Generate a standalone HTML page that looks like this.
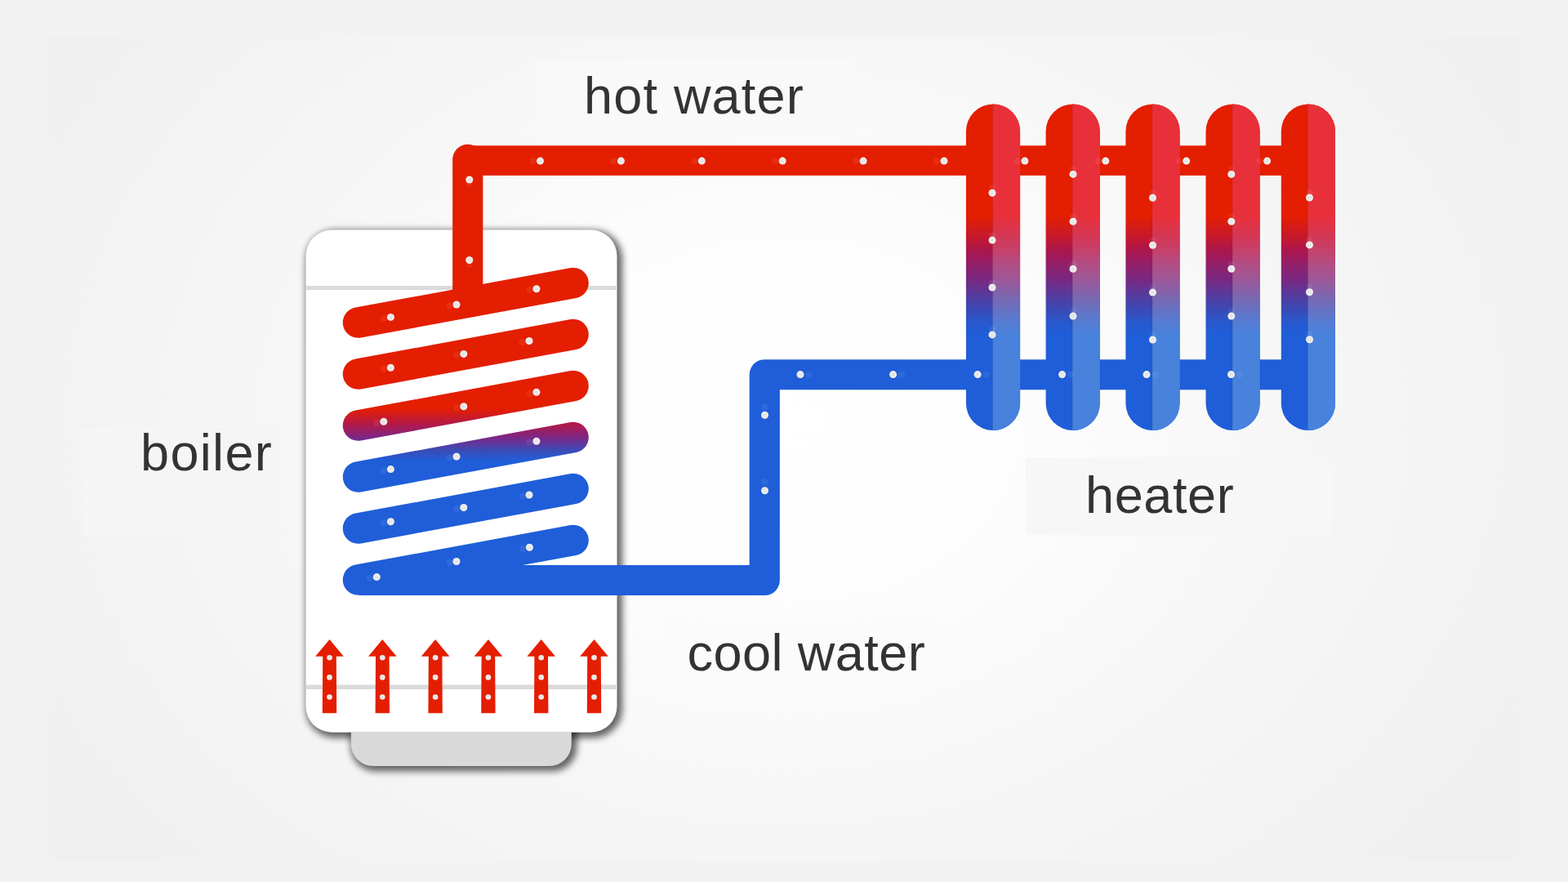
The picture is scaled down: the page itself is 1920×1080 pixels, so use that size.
<!DOCTYPE html>
<html lang="en">
<head>
<meta charset="utf-8">
<title>Boiler and heater water circulation</title>
<style>
  html, body { margin: 0; padding: 0; }
  body { width: 1920px; height: 1080px; overflow: hidden; background: #f2f2f2; position: relative;
         font-family: "Liberation Sans", sans-serif; }
  .stage { position: absolute; left: 60px; top: 45px; width: 1800px; height: 1010px;
           background: radial-gradient(ellipse 1040px 800px at 900px 470px, #ffffff 0%, #fdfdfd 28%, #f6f6f6 62%, #f0f0f0 100%); }
  .box { position: absolute; }
  svg.diagram { position: absolute; left: 0; top: 0; width: 1920px; height: 1080px; }
  .label { position: absolute; margin: 0; color: #333333; font-size: 63px; line-height: 1; white-space: nowrap;
           font-weight: normal; transform-origin: 0 0; }
</style>
</head>
<body>
<div class="stage"></div>
<div class="box" style="left:655px; top:74px; width:390px; height:91px; background:#f9f9f9;"></div>
<div class="box" style="left:100px; top:523px; width:245px; height:133px; background:#f5f5f5;"></div>
<div class="box" style="left:1256px; top:560px; width:374px; height:95px; background:#f7f7f7;"></div>
<div class="box" style="left:808px; top:756px; width:340px; height:82px; background:#fbfbfb;"></div>
<svg class="diagram" viewBox="0 0 1920 1080" width="1920" height="1080">
  <defs>
    <filter id="blur" filterUnits="userSpaceOnUse" x="330" y="240" width="480" height="760" color-interpolation-filters="sRGB">
      <feGaussianBlur stdDeviation="4.4"/>
    </filter>
    <clipPath id="baseclip"><rect x="380" y="896.8" width="400" height="120"/></clipPath>
    <linearGradient id="coilg" gradientUnits="userSpaceOnUse" x1="0" y1="500" x2="0" y2="564">
      <stop offset="0" stop-color="#e41e00"/>
      <stop offset="0.3" stop-color="#b41848"/>
      <stop offset="0.55" stop-color="#7e2684"/>
      <stop offset="0.8" stop-color="#3c4ab6"/>
      <stop offset="1" stop-color="#1f5ed8"/>
    </linearGradient>
    <linearGradient id="radg" gradientUnits="userSpaceOnUse" x1="0" y1="264" x2="0" y2="410">
      <stop offset="0" stop-color="#e41e00"/>
      <stop offset="0.19" stop-color="#c41830"/>
      <stop offset="0.30" stop-color="#aa1650"/>
      <stop offset="0.42" stop-color="#90206c"/>
      <stop offset="0.54" stop-color="#782882"/>
      <stop offset="0.66" stop-color="#583a9c"/>
      <stop offset="0.78" stop-color="#3c48b4"/>
      <stop offset="0.89" stop-color="#2858cc"/>
      <stop offset="1" stop-color="#1f5ed8"/>
    </linearGradient>
    <linearGradient id="radl" gradientUnits="userSpaceOnUse" x1="0" y1="264" x2="0" y2="410">
      <stop offset="0" stop-color="#e8303a"/>
      <stop offset="0.19" stop-color="#d23858"/>
      <stop offset="0.30" stop-color="#c4426c"/>
      <stop offset="0.42" stop-color="#b04e86"/>
      <stop offset="0.54" stop-color="#9c5898"/>
      <stop offset="0.66" stop-color="#8064ac"/>
      <stop offset="0.78" stop-color="#6870c0"/>
      <stop offset="0.89" stop-color="#567cd2"/>
      <stop offset="1" stop-color="#4882dc"/>
    </linearGradient>
    <radialGradient id="dotg" cx="0.5" cy="0.5" r="0.5">
      <stop offset="0" stop-color="#e2e2e2"/>
      <stop offset="0.6" stop-color="#ebebeb"/>
      <stop offset="1" stop-color="#f3eeee"/>
    </radialGradient>
  </defs>

<rect x="374.7" y="281.7" width="387.4" height="621.7" rx="35.2" ry="35.2" fill="#000" opacity="0.6" filter="url(#blur)"/>
<g clip-path="url(#baseclip)">
  <path d="M429.6 880 H706.4 V914.4 a30.2 30.2 0 0 1 -30.2 30.2 H459.8 a30.2 30.2 0 0 1 -30.2 -30.2 Z" fill="#000" opacity="0.6" filter="url(#blur)"/>
  <path d="M429.8 884 H699.8 V911 a27 27 0 0 1 -27 27 H456.8 a27 27 0 0 1 -27 -27 Z" fill="#d9d9d9"/>
</g>
<rect x="374.5" y="281.5" width="381" height="615.3" rx="32" ry="32" fill="#fff"/>
<rect x="374.5" y="350" width="381" height="5" fill="#dadada"/>
<rect x="374.5" y="838.5" width="381" height="5.5" fill="#dadada"/>

<g><polygon points="403.5,783.0 420.8,803.8 411.8,803.8 412.2,873.2 394.8,873.2 395.2,803.8 386.2,803.8" fill="#e41e00"/><circle cx="403.5" cy="805.3" r="3.3" fill="url(#dotg)"/><circle cx="403.5" cy="829.4" r="3.3" fill="url(#dotg)"/><circle cx="403.5" cy="853.5" r="3.3" fill="url(#dotg)"/><polygon points="468.3,783.0 485.6,803.8 476.6,803.8 477.0,873.2 459.6,873.2 460.0,803.8 451.0,803.8" fill="#e41e00"/><circle cx="468.3" cy="805.3" r="3.3" fill="url(#dotg)"/><circle cx="468.3" cy="829.4" r="3.3" fill="url(#dotg)"/><circle cx="468.3" cy="853.5" r="3.3" fill="url(#dotg)"/><polygon points="533.1,783.0 550.4,803.8 541.4,803.8 541.8,873.2 524.4,873.2 524.8,803.8 515.8,803.8" fill="#e41e00"/><circle cx="533.1" cy="805.3" r="3.3" fill="url(#dotg)"/><circle cx="533.1" cy="829.4" r="3.3" fill="url(#dotg)"/><circle cx="533.1" cy="853.5" r="3.3" fill="url(#dotg)"/><polygon points="597.9,783.0 615.2,803.8 606.2,803.8 606.6,873.2 589.2,873.2 589.6,803.8 580.6,803.8" fill="#e41e00"/><circle cx="597.9" cy="805.3" r="3.3" fill="url(#dotg)"/><circle cx="597.9" cy="829.4" r="3.3" fill="url(#dotg)"/><circle cx="597.9" cy="853.5" r="3.3" fill="url(#dotg)"/><polygon points="662.7,783.0 680.0,803.8 671.0,803.8 671.4,873.2 654.0,873.2 654.4,803.8 645.4,803.8" fill="#e41e00"/><circle cx="662.7" cy="805.3" r="3.3" fill="url(#dotg)"/><circle cx="662.7" cy="829.4" r="3.3" fill="url(#dotg)"/><circle cx="662.7" cy="853.5" r="3.3" fill="url(#dotg)"/><polygon points="727.5,783.0 744.8,803.8 735.8,803.8 736.2,873.2 718.8,873.2 719.2,803.8 710.2,803.8" fill="#e41e00"/><circle cx="727.5" cy="805.3" r="3.3" fill="url(#dotg)"/><circle cx="727.5" cy="829.4" r="3.3" fill="url(#dotg)"/><circle cx="727.5" cy="853.5" r="3.3" fill="url(#dotg)"/></g>
<g stroke="url(#coilg)" stroke-width="37.5" stroke-linecap="round" fill="none"><line x1="438.5" y1="395" x2="702" y2="346.5"/><line x1="438.5" y1="458" x2="702" y2="409.5"/><line x1="438.5" y1="521" x2="702" y2="472.5"/><line x1="438.5" y1="584" x2="702" y2="535.5"/><line x1="438.5" y1="647" x2="702" y2="598.5"/><line x1="438.5" y1="710" x2="702" y2="661.5"/></g>
<path d="M572.75 364 V195.4" fill="none" stroke="#e41e00" stroke-width="37.2" stroke-linecap="round"/><rect x="572" y="178.3" width="1030" height="36.6" fill="#e41e00"/>
<path d="M1600 458.75 H936.25 V710.5 H440" fill="none" stroke="#1f5ed8" stroke-width="37.2" stroke-linejoin="round"/>
<g><rect x="1182.9" y="127.5" width="66.2" height="399.5" rx="33.1" ry="33.1" fill="url(#radg)"/><path d="M1215.50 127.5 a33.1 33.1 0 0 1 33.6 33.1 V493.9 a33.1 33.1 0 0 1 -33.6 33.1 Z" fill="url(#radl)"/><rect x="1214.80" y="127.5" width="1.2" height="399.5" fill="#000" opacity="0.06"/><rect x="1280.6" y="127.5" width="66.2" height="399.5" rx="33.1" ry="33.1" fill="url(#radg)"/><path d="M1313.20 127.5 a33.1 33.1 0 0 1 33.6 33.1 V493.9 a33.1 33.1 0 0 1 -33.6 33.1 Z" fill="url(#radl)"/><rect x="1312.50" y="127.5" width="1.2" height="399.5" fill="#000" opacity="0.06"/><rect x="1378.4" y="127.5" width="66.2" height="399.5" rx="33.1" ry="33.1" fill="url(#radg)"/><path d="M1411.00 127.5 a33.1 33.1 0 0 1 33.6 33.1 V493.9 a33.1 33.1 0 0 1 -33.6 33.1 Z" fill="url(#radl)"/><rect x="1410.30" y="127.5" width="1.2" height="399.5" fill="#000" opacity="0.06"/><rect x="1476.5" y="127.5" width="66.2" height="399.5" rx="33.1" ry="33.1" fill="url(#radg)"/><path d="M1509.10 127.5 a33.1 33.1 0 0 1 33.6 33.1 V493.9 a33.1 33.1 0 0 1 -33.6 33.1 Z" fill="url(#radl)"/><rect x="1508.40" y="127.5" width="1.2" height="399.5" fill="#000" opacity="0.06"/><rect x="1568.8" y="127.5" width="66.2" height="399.5" rx="33.1" ry="33.1" fill="url(#radg)"/><path d="M1601.40 127.5 a33.1 33.1 0 0 1 33.6 33.1 V493.9 a33.1 33.1 0 0 1 -33.6 33.1 Z" fill="url(#radl)"/><rect x="1600.70" y="127.5" width="1.2" height="399.5" fill="#000" opacity="0.06"/></g>
<g><circle cx="652.5" cy="197.1" r="4.2" fill="#fff" opacity="0.07"/><circle cx="661.5" cy="197.1" r="4.5" fill="url(#dotg)"/><circle cx="751.4" cy="197.1" r="4.2" fill="#fff" opacity="0.07"/><circle cx="760.4" cy="197.1" r="4.5" fill="url(#dotg)"/><circle cx="850.3" cy="197.1" r="4.2" fill="#fff" opacity="0.07"/><circle cx="859.3" cy="197.1" r="4.5" fill="url(#dotg)"/><circle cx="949.2" cy="197.1" r="4.2" fill="#fff" opacity="0.07"/><circle cx="958.2" cy="197.1" r="4.5" fill="url(#dotg)"/><circle cx="1048.1" cy="197.1" r="4.2" fill="#fff" opacity="0.07"/><circle cx="1057.1" cy="197.1" r="4.5" fill="url(#dotg)"/><circle cx="1147.0" cy="197.1" r="4.2" fill="#fff" opacity="0.07"/><circle cx="1156.0" cy="197.1" r="4.5" fill="url(#dotg)"/><circle cx="1245.9" cy="197.1" r="4.2" fill="#fff" opacity="0.07"/><circle cx="1254.9" cy="197.1" r="4.5" fill="url(#dotg)"/><circle cx="1344.8" cy="197.1" r="4.2" fill="#fff" opacity="0.07"/><circle cx="1353.8" cy="197.1" r="4.5" fill="url(#dotg)"/><circle cx="1443.7" cy="197.1" r="4.2" fill="#fff" opacity="0.07"/><circle cx="1452.7" cy="197.1" r="4.5" fill="url(#dotg)"/><circle cx="1542.6" cy="197.1" r="4.2" fill="#fff" opacity="0.07"/><circle cx="1551.6" cy="197.1" r="4.5" fill="url(#dotg)"/><circle cx="990.5" cy="458.6" r="4.2" fill="#fff" opacity="0.07"/><circle cx="980.0" cy="458.6" r="4.5" fill="url(#dotg)"/><circle cx="1104.1" cy="458.6" r="4.2" fill="#fff" opacity="0.07"/><circle cx="1093.6" cy="458.6" r="4.5" fill="url(#dotg)"/><circle cx="1207.6" cy="458.6" r="4.2" fill="#fff" opacity="0.07"/><circle cx="1197.1" cy="458.6" r="4.5" fill="url(#dotg)"/><circle cx="1311.1" cy="458.6" r="4.2" fill="#fff" opacity="0.07"/><circle cx="1300.6" cy="458.6" r="4.5" fill="url(#dotg)"/><circle cx="1414.5" cy="458.6" r="4.2" fill="#fff" opacity="0.07"/><circle cx="1404.0" cy="458.6" r="4.5" fill="url(#dotg)"/><circle cx="1518.0" cy="458.6" r="4.2" fill="#fff" opacity="0.07"/><circle cx="1507.5" cy="458.6" r="4.5" fill="url(#dotg)"/><circle cx="574.8" cy="225.0" r="4.2" fill="#fff" opacity="0.07"/><circle cx="574.8" cy="220.0" r="4.5" fill="url(#dotg)"/><circle cx="574.8" cy="323.5" r="4.2" fill="#fff" opacity="0.07"/><circle cx="574.8" cy="318.5" r="4.5" fill="url(#dotg)"/><circle cx="936.5" cy="497.7" r="4.2" fill="#fff" opacity="0.07"/><circle cx="936.5" cy="508.2" r="4.5" fill="url(#dotg)"/><circle cx="936.5" cy="590.3" r="4.2" fill="#fff" opacity="0.07"/><circle cx="936.5" cy="600.8" r="4.5" fill="url(#dotg)"/></g>
<g><circle cx="1215.0" cy="230.2" r="4.2" fill="#fff" opacity="0.07"/><circle cx="1215.0" cy="236.2" r="4.5" fill="url(#dotg)"/><circle cx="1215.0" cy="288.1" r="4.2" fill="#fff" opacity="0.07"/><circle cx="1215.0" cy="294.1" r="4.5" fill="url(#dotg)"/><circle cx="1215.0" cy="346.0" r="4.2" fill="#fff" opacity="0.07"/><circle cx="1215.0" cy="352.0" r="4.5" fill="url(#dotg)"/><circle cx="1215.0" cy="403.9" r="4.2" fill="#fff" opacity="0.07"/><circle cx="1215.0" cy="409.9" r="4.5" fill="url(#dotg)"/><circle cx="1314.0" cy="207.4" r="4.2" fill="#fff" opacity="0.07"/><circle cx="1314.0" cy="213.4" r="4.5" fill="url(#dotg)"/><circle cx="1314.0" cy="265.3" r="4.2" fill="#fff" opacity="0.07"/><circle cx="1314.0" cy="271.3" r="4.5" fill="url(#dotg)"/><circle cx="1314.0" cy="323.2" r="4.2" fill="#fff" opacity="0.07"/><circle cx="1314.0" cy="329.2" r="4.5" fill="url(#dotg)"/><circle cx="1314.0" cy="381.1" r="4.2" fill="#fff" opacity="0.07"/><circle cx="1314.0" cy="387.1" r="4.5" fill="url(#dotg)"/><circle cx="1411.5" cy="236.3" r="4.2" fill="#fff" opacity="0.07"/><circle cx="1411.5" cy="242.3" r="4.5" fill="url(#dotg)"/><circle cx="1411.5" cy="294.2" r="4.2" fill="#fff" opacity="0.07"/><circle cx="1411.5" cy="300.2" r="4.5" fill="url(#dotg)"/><circle cx="1411.5" cy="352.1" r="4.2" fill="#fff" opacity="0.07"/><circle cx="1411.5" cy="358.1" r="4.5" fill="url(#dotg)"/><circle cx="1411.5" cy="410.0" r="4.2" fill="#fff" opacity="0.07"/><circle cx="1411.5" cy="416.0" r="4.5" fill="url(#dotg)"/><circle cx="1507.8" cy="207.4" r="4.2" fill="#fff" opacity="0.07"/><circle cx="1507.8" cy="213.4" r="4.5" fill="url(#dotg)"/><circle cx="1507.8" cy="265.3" r="4.2" fill="#fff" opacity="0.07"/><circle cx="1507.8" cy="271.3" r="4.5" fill="url(#dotg)"/><circle cx="1507.8" cy="323.2" r="4.2" fill="#fff" opacity="0.07"/><circle cx="1507.8" cy="329.2" r="4.5" fill="url(#dotg)"/><circle cx="1507.8" cy="381.1" r="4.2" fill="#fff" opacity="0.07"/><circle cx="1507.8" cy="387.1" r="4.5" fill="url(#dotg)"/><circle cx="1603.5" cy="236.0" r="4.2" fill="#fff" opacity="0.07"/><circle cx="1603.5" cy="242.0" r="4.5" fill="url(#dotg)"/><circle cx="1603.5" cy="293.9" r="4.2" fill="#fff" opacity="0.07"/><circle cx="1603.5" cy="299.9" r="4.5" fill="url(#dotg)"/><circle cx="1603.5" cy="351.8" r="4.2" fill="#fff" opacity="0.07"/><circle cx="1603.5" cy="357.8" r="4.5" fill="url(#dotg)"/><circle cx="1603.5" cy="409.7" r="4.2" fill="#fff" opacity="0.07"/><circle cx="1603.5" cy="415.7" r="4.5" fill="url(#dotg)"/></g>
<g><circle cx="648.4" cy="355.3" r="4.2" fill="#fff" opacity="0.07"/><circle cx="656.9" cy="353.8" r="4.5" fill="url(#dotg)"/><circle cx="550.5" cy="374.5" r="4.2" fill="#fff" opacity="0.07"/><circle cx="559.0" cy="373.0" r="4.5" fill="url(#dotg)"/><circle cx="469.9" cy="389.9" r="4.2" fill="#fff" opacity="0.07"/><circle cx="478.4" cy="388.4" r="4.5" fill="url(#dotg)"/><circle cx="639.5" cy="419.0" r="4.2" fill="#fff" opacity="0.07"/><circle cx="648.0" cy="417.5" r="4.5" fill="url(#dotg)"/><circle cx="559.3" cy="434.9" r="4.2" fill="#fff" opacity="0.07"/><circle cx="567.8" cy="433.4" r="4.5" fill="url(#dotg)"/><circle cx="469.9" cy="451.8" r="4.2" fill="#fff" opacity="0.07"/><circle cx="478.4" cy="450.3" r="4.5" fill="url(#dotg)"/><circle cx="648.4" cy="481.8" r="4.2" fill="#fff" opacity="0.07"/><circle cx="656.9" cy="480.3" r="4.5" fill="url(#dotg)"/><circle cx="559.3" cy="499.3" r="4.2" fill="#fff" opacity="0.07"/><circle cx="567.8" cy="497.8" r="4.5" fill="url(#dotg)"/><circle cx="461.3" cy="517.8" r="4.2" fill="#fff" opacity="0.07"/><circle cx="469.8" cy="516.3" r="4.5" fill="url(#dotg)"/><circle cx="648.4" cy="541.8" r="4.2" fill="#fff" opacity="0.07"/><circle cx="656.9" cy="540.3" r="4.5" fill="url(#dotg)"/><circle cx="550.5" cy="560.5" r="4.2" fill="#fff" opacity="0.07"/><circle cx="559.0" cy="559.0" r="4.5" fill="url(#dotg)"/><circle cx="469.9" cy="576.1" r="4.2" fill="#fff" opacity="0.07"/><circle cx="478.4" cy="574.6" r="4.5" fill="url(#dotg)"/><circle cx="639.5" cy="607.5" r="4.2" fill="#fff" opacity="0.07"/><circle cx="648.0" cy="606.0" r="4.5" fill="url(#dotg)"/><circle cx="559.3" cy="623.0" r="4.2" fill="#fff" opacity="0.07"/><circle cx="567.8" cy="621.5" r="4.5" fill="url(#dotg)"/><circle cx="469.9" cy="640.3" r="4.2" fill="#fff" opacity="0.07"/><circle cx="478.4" cy="638.8" r="4.5" fill="url(#dotg)"/><circle cx="639.9" cy="671.8" r="4.2" fill="#fff" opacity="0.07"/><circle cx="648.4" cy="670.3" r="4.5" fill="url(#dotg)"/><circle cx="550.5" cy="689.0" r="4.2" fill="#fff" opacity="0.07"/><circle cx="559.0" cy="687.5" r="4.5" fill="url(#dotg)"/><circle cx="452.8" cy="708.1" r="4.2" fill="#fff" opacity="0.07"/><circle cx="461.3" cy="706.6" r="4.5" fill="url(#dotg)"/></g>
</svg>
<div class="label" id="t1" style="left:715px; top:86px; letter-spacing:1.2px;">hot water</div>
<div class="label" id="t2" style="left:172px; top:523px; letter-spacing:1.35px;">boiler</div>
<div class="label" id="t3" style="left:1329px; top:574.5px; letter-spacing:0.6px;">heater</div>
<div class="label" id="t4" style="left:841.5px; top:768px; letter-spacing:0.45px;">cool water</div>
</body>
</html>
